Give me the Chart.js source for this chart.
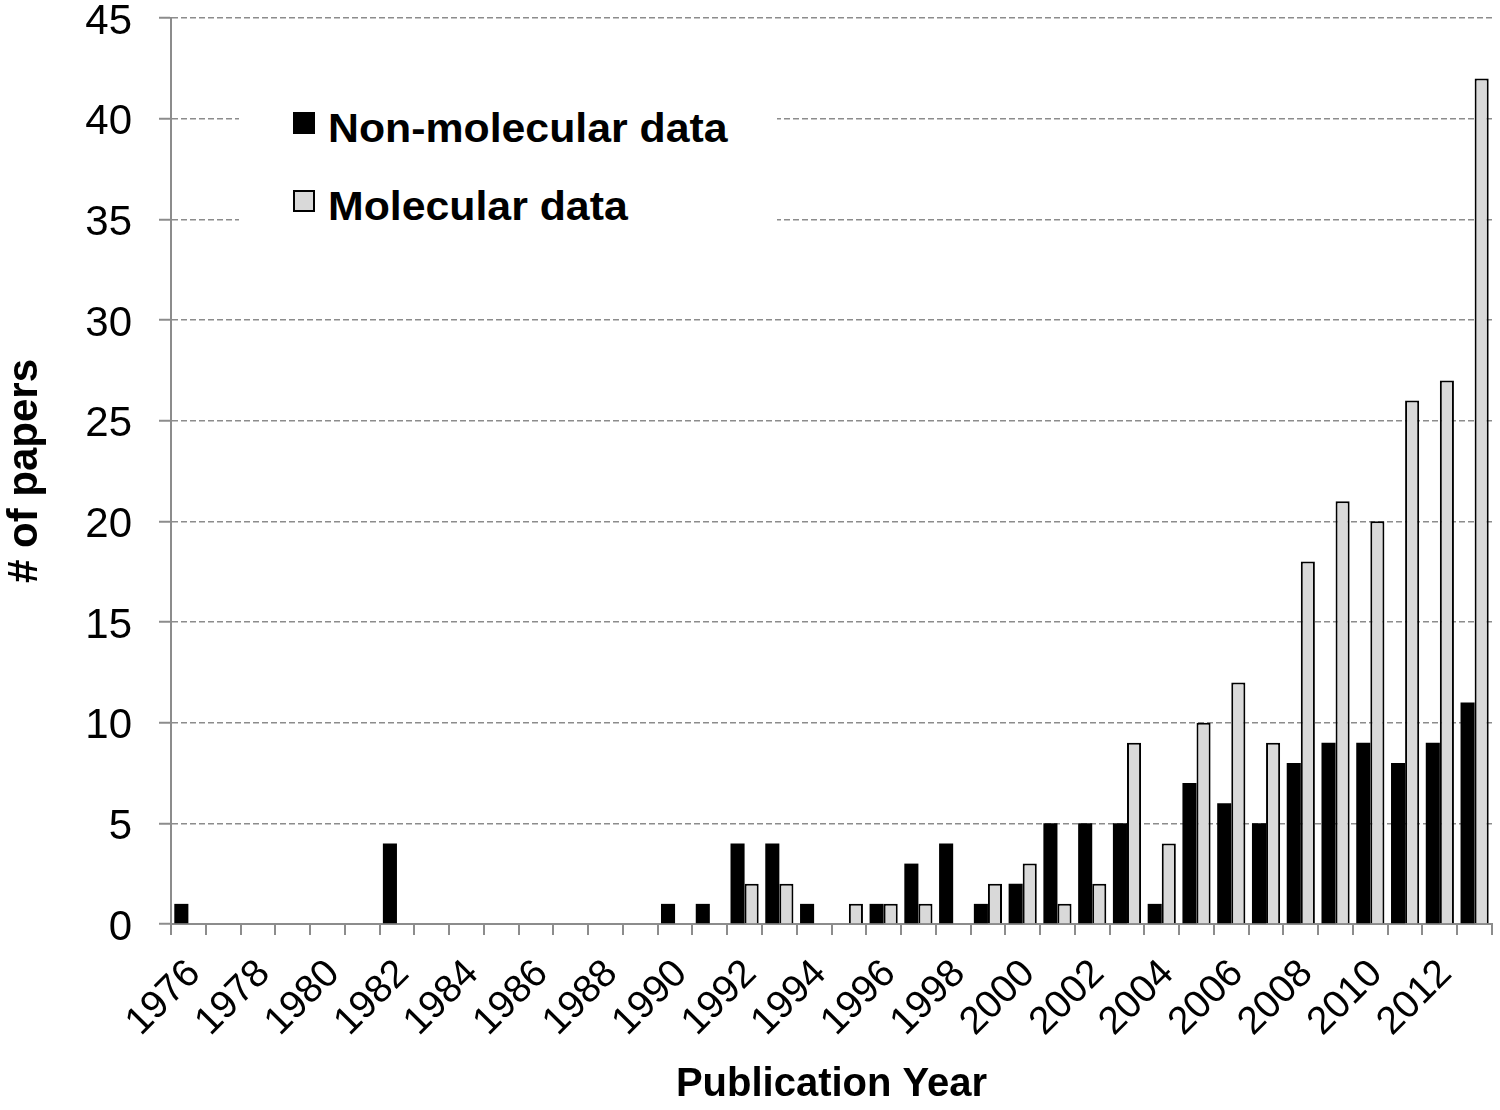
<!DOCTYPE html>
<html>
<head>
<meta charset="utf-8">
<script src="https://cdn.jsdelivr.net/npm/chart.js@4.4.1/dist/chart.umd.min.js"></script>
<style>
  html, body { margin: 0; padding: 0; background: #fff; }
  #wrap { position: relative; width: 1500px; height: 1110px; }
  #c { position: absolute; left: 0; top: 0; }
  #legend { position: absolute; left: 239px; top: 82px; width: 538px; height: 160px; background: #fff;
            font-family: "Liberation Sans", Arial, sans-serif; font-weight: bold; font-size: 40px; color: #000; }
  .row { position: absolute; left: 54px; height: 40px; line-height: 40px; white-space: nowrap; }
  .box { position: absolute; left: 0; top: 4px; width: 22px; height: 22px; box-sizing: border-box; }
  .txt { position: absolute; left: 35px; top: 0; display: inline-block; transform: scaleX(1.07); transform-origin: left center; }
</style>
</head>
<body>
<div id="wrap">
  <canvas id="c" width="1500" height="1110"></canvas>
  <div id="legend"></div>
</div>
<script>
const years = [1976,1977,1978,1979,1980,1981,1982,1983,1984,1985,1986,1987,1988,1989,1990,1991,1992,1993,1994,1995,1996,1997,1998,1999,2000,2001,2002,2003,2004,2005,2006,2007,2008,2009,2010,2011,2012,2013];
const nonMolecular = [1,0,0,0,0,0,4,0,0,0,0,0,0,0,1,1,4,4,1,0,1,3,4,1,2,5,5,5,1,7,6,5,8,9,9,8,9,11];
const molecular    = [0,0,0,0,0,0,0,0,0,0,0,0,0,0,0,0,2,2,0,1,1,1,0,2,3,1,2,9,4,10,12,9,18,21,20,26,27,42];
const seriesNames = ["Non-molecular data", "Molecular data"];
const yTicks = [0,5,10,15,20,25,30,35,40,45];
const xTitle = "Publication Year";
const yTitle = "# of papers";

const gridGrey = '#8c8c8c';
const fontFam = '"Liberation Sans", Arial, sans-serif';

const ctx = document.getElementById('c').getContext('2d');
const chart = new Chart(ctx, {
  type: 'bar',
  data: {
    labels: years.map(String),
    datasets: [
      { label: seriesNames[0], data: nonMolecular, backgroundColor: '#000000', borderColor: '#000000', borderWidth: 0,
        categoryPercentage: 0.81, barPercentage: 1.0 },
      { label: seriesNames[1], data: molecular, backgroundColor: '#d9d9d9', borderColor: '#000000', borderWidth: 2,
        categoryPercentage: 0.81, barPercentage: 1.0 }
    ]
  },
  options: {
    responsive: false,
    devicePixelRatio: 1,
    animation: false,
    layout: { padding: { top: 18, right: 8, bottom: 0, left: 0 } },
    plugins: { legend: { display: false }, tooltip: { enabled: false } },
    scales: {
      x: {
        grid: { display: true, offset: true, drawOnChartArea: false, drawTicks: true, tickLength: 11,
                color: gridGrey, lineWidth: 2, tickColor: gridGrey, tickWidth: 2 },
        border: { display: true, color: gridGrey, width: 2 },
        ticks: {
          autoSkip: false, minRotation: 45, maxRotation: 45, padding: 16, labelOffset: 6, color: '#000',
          font: { family: fontFam, size: 39 },
          callback: function(v, i) { return (i % 2 === 0) ? this.getLabelForValue(v) : ''; }
        },
        title: { display: true, text: xTitle, color: '#000', font: { family: fontFam, size: 40, weight: 'bold' },
                 padding: { top: 0, bottom: 1 } },
        afterFit: function(s) { s.height = 186; s.paddingLeft = 0; s.paddingRight = 0; }
      },
      y: {
        min: 0, max: 45,
        afterBuildTicks: function(s) { s.ticks = yTicks.map(v => ({ value: v })); },
        grid: { display: true, drawOnChartArea: true, drawTicks: true, tickLength: 12,
                color: gridGrey, lineWidth: 1.5, tickColor: gridGrey, tickWidth: 2 },
        border: { display: true, color: gridGrey, width: 2, dash: [6, 3] },
        ticks: { padding: 27, labelOffset: 4, color: '#000', font: { family: fontFam, size: 42 } },
        title: { display: true, text: yTitle, color: '#000', font: { family: fontFam, size: 42, weight: 'bold' },
                 padding: { top: 0, bottom: 0 } },
        afterFit: function(s) { s.width = 171; s.paddingTop = 0; s.paddingBottom = 0; }
      }
    }
  }
});

// HTML legend built from dataset names/colours
const legend = document.getElementById('legend');
chart.data.datasets.forEach((ds, i) => {
  const row = document.createElement('div');
  row.className = 'row';
  row.style.top = (26 + i * 78) + 'px';
  const box = document.createElement('span');
  box.className = 'box';
  box.style.background = ds.backgroundColor;
  box.style.border = '2px solid #000';
  const txt = document.createElement('span');
  txt.className = 'txt';
  txt.textContent = ds.label;
  row.appendChild(box); row.appendChild(txt);
  legend.appendChild(row);
});
</script>
</body>
</html>
